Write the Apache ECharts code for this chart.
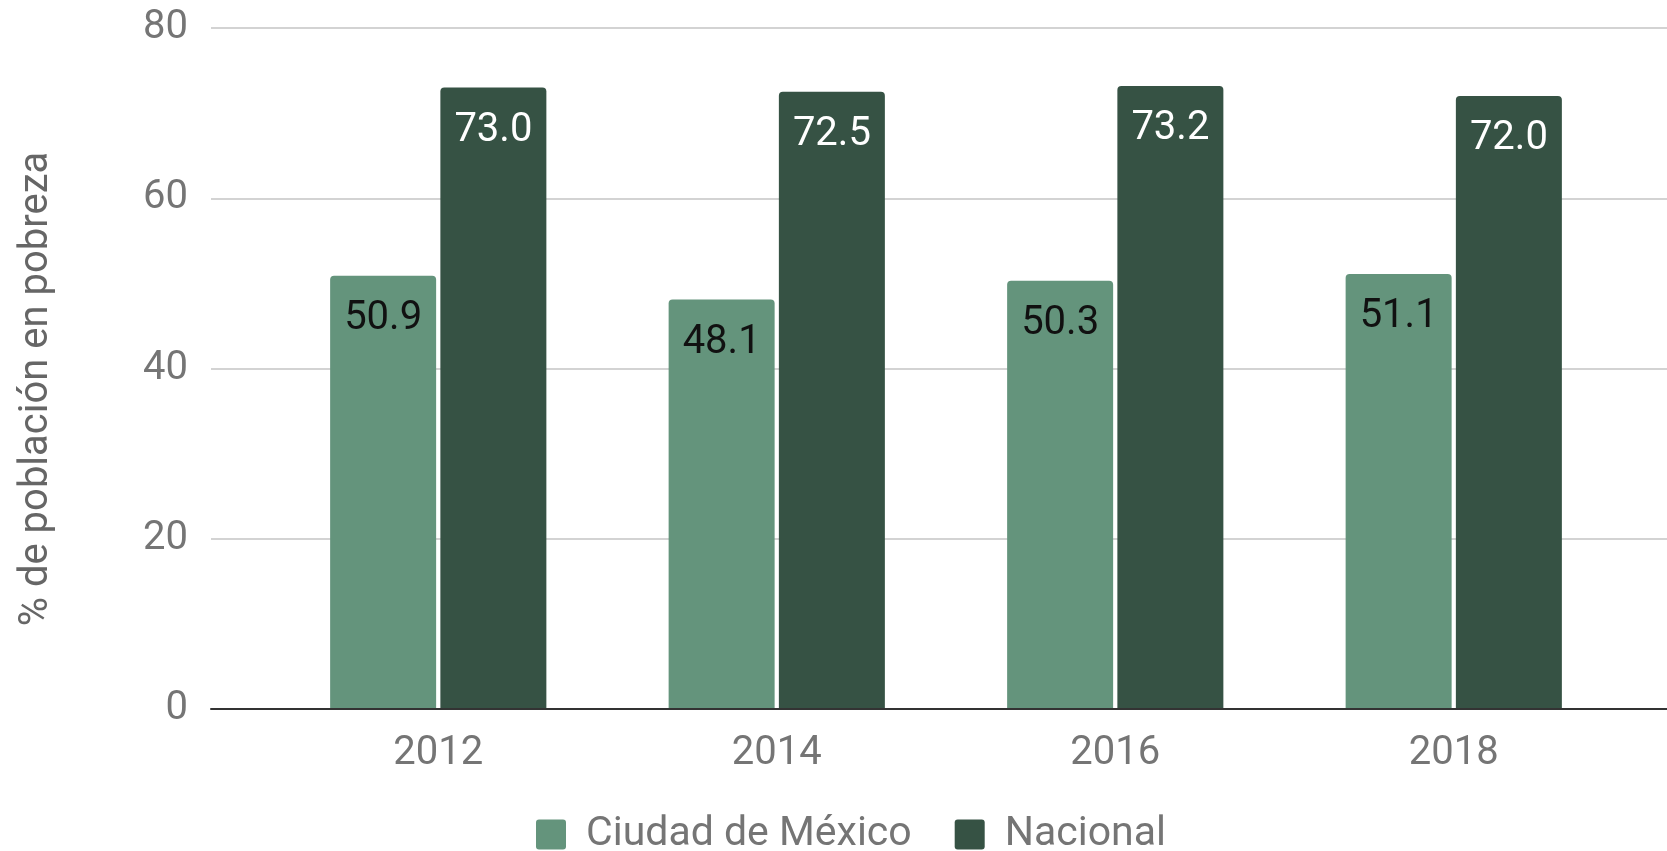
<!DOCTYPE html>
<html>
<head>
<meta charset="utf-8">
<script src="https://cdn.jsdelivr.net/npm/echarts@6/dist/echarts.min.js"></script>
<style>
html,body{margin:0;padding:0;background:#fff;}
#chart{width:1667px;height:851px;}
</style>
</head>
<body>
<div id="chart"></div>
<script>
const categories = ['2012', '2014', '2016', '2018'];
const cdmx = [50.9, 48.1, 50.3, 51.1];
const nacional = [73.0, 72.5, 73.2, 72.0];
const seriesNames = ['Ciudad de México', 'Nacional'];
const yAxisTitle = '% de población en pobreza';

const FONT = 'Roboto, "Noto Sans", sans-serif';
const chart = echarts.init(document.getElementById('chart'), null, {renderer: 'canvas'});

const option = {
  backgroundColor: '#ffffff',
  animation: false,
  textStyle: {fontFamily: FONT},
  grid: [
    {left: 211, right: 0, top: 28, bottom: 142},
    {left: 269, right: 44, top: 28, bottom: 142}
  ],
  xAxis: [
    {
      gridIndex: 0, type: 'value', min: 0, max: 1, z: 10,
      axisLine: {show: true, onZero: false, lineStyle: {color: '#333333', width: 2}},
      axisTick: {show: false}, axisLabel: {show: false}, splitLine: {show: false}
    },
    {
      gridIndex: 1, type: 'category', data: categories,
      axisLine: {show: false}, axisTick: {show: false},
      axisLabel: {color: '#757575', fontSize: 40, fontFamily: FONT, margin: 25}
    }
  ],
  yAxis: [
    {
      gridIndex: 0, type: 'value', min: 0, max: 80, interval: 20,
      axisLine: {show: false}, axisTick: {show: false},
      axisLabel: {color: '#757575', fontSize: 40, fontFamily: FONT, margin: 23},
      splitLine: {lineStyle: {color: '#d3d3d3', width: 2}}
    },
    {
      gridIndex: 1, type: 'value', min: 0, max: 80, interval: 20, show: false,
      splitLine: {show: false}
    }
  ],
  legend: {
    data: seriesNames,
    left: 531, top: 809,
    itemWidth: 30, itemHeight: 30, itemGap: 43,
    icon: 'path://M3,0 H27 Q30,0 30,3 V27 Q30,30 27,30 H3 Q0,30 0,27 V3 Q0,0 3,0 Z',
    textStyle: {color: '#757575', fontSize: 41, fontFamily: FONT, padding: [0, 0, 0, 15]}
  },
  graphic: [
    {
      type: 'text', x: 37, y: 389, rotation: Math.PI / 2,
      style: {
        text: yAxisTitle, fill: '#666666', font: '40px ' + FONT,
        textAlign: 'center', textVerticalAlign: 'middle'
      }
    }
  ],
  series: [
    {
      name: seriesNames[0], type: 'bar', xAxisIndex: 1, yAxisIndex: 1,
      data: cdmx, barWidth: 106, barGap: '4%',
      itemStyle: {color: '#64947c', borderRadius: [4, 4, 0, 0]},
      label: {
        show: true, position: 'insideTop', distance: 23,
        formatter: p => p.value.toFixed(1),
        color: '#111111', fontSize: 40, fontFamily: FONT
      }
    },
    {
      name: seriesNames[1], type: 'bar', xAxisIndex: 1, yAxisIndex: 1,
      data: nacional, barWidth: 106,
      itemStyle: {color: '#365244', borderRadius: [4, 4, 0, 0]},
      label: {
        show: true, position: 'insideTop', distance: 23,
        formatter: p => p.value.toFixed(1),
        color: '#ffffff', fontSize: 40, fontFamily: FONT
      }
    }
  ]
};
chart.setOption(option);
</script>
</body>
</html>
